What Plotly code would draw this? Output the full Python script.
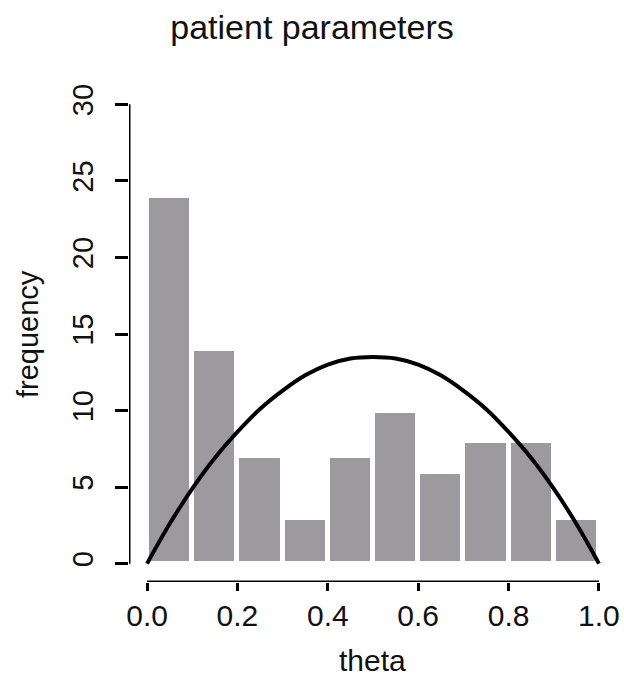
import plotly.graph_objects as go

# Histogram data (bins of width 0.1 on [0,1])
bin_centers = [0.05, 0.15, 0.25, 0.35, 0.45, 0.55, 0.65, 0.75, 0.85, 0.95]
frequencies = [24, 14, 7, 3, 7, 10, 6, 8, 8, 3]

# Overlaid curve
curve_x = [0.0, 0.05, 0.1, 0.15, 0.2, 0.25, 0.3, 0.35, 0.4, 0.45, 0.5,
           0.55, 0.6, 0.65, 0.7, 0.75, 0.8, 0.85, 0.9, 0.95, 1.0]
curve_y = [0.0, 2.6, 4.9, 6.9, 8.6, 10.1, 11.3, 12.3, 13.0, 13.4, 13.5,
           13.4, 13.0, 12.3, 11.3, 10.1, 8.6, 6.9, 4.9, 2.6, 0.0]

x_ticks = [0.0, 0.2, 0.4, 0.6, 0.8, 1.0]
x_tick_labels = ["0.0", "0.2", "0.4", "0.6", "0.8", "1.0"]
y_ticks = [0, 5, 10, 15, 20, 25, 30]
y_tick_labels = ["0", "5", "10", "15", "20", "25", "30"]

FONT = "Liberation Sans, Arial, sans-serif"

fig = go.Figure()
fig.add_trace(go.Bar(
    x=bin_centers, y=frequencies, width=0.1,
    marker=dict(color="#9c9a9e", line=dict(color="white", width=5)),
    showlegend=False,
))
fig.add_trace(go.Scatter(
    x=curve_x, y=curve_y, mode="lines",
    line=dict(color="black", width=4, shape="spline"),
    showlegend=False,
))

# R-style axis lines spanning first to last tick
fig.add_shape(type="line", xref="x", yref="y", x0=0, x1=1, y0=-1.2, y1=-1.2,
              line=dict(color="black", width=3))
fig.add_shape(type="line", xref="x", yref="y", x0=-0.04, x1=-0.04, y0=0, y1=30,
              line=dict(color="black", width=3))

# Axis titles placed as in the reference
fig.add_annotation(text="theta", xref="paper", yref="paper", x=0.498, y=-0.158,
                   xanchor="center", yanchor="middle", showarrow=False,
                   font=dict(size=30, color="#111"))
fig.add_annotation(text="frequency", xref="paper", yref="paper", x=-0.207, y=0.5,
                   xanchor="center", yanchor="middle", showarrow=False,
                   textangle=-90, font=dict(size=29, color="#111"))

fig.update_layout(
    width=624, height=676,
    margin=dict(l=129, r=7, t=86, b=94),
    plot_bgcolor="white", paper_bgcolor="white",
    font=dict(family=FONT, color="#111"),
    title=dict(text="patient parameters", x=0.5, xref="container", xanchor="center",
               y=1 - 27 / 676, yref="container", yanchor="middle",
               font=dict(size=34, color="#111"), automargin=False),
    xaxis=dict(range=[-0.04, 1.04], tickvals=x_ticks, ticktext=x_tick_labels,
               ticks="outside", ticklen=8, tickwidth=3, tickcolor="black",
               showgrid=False, zeroline=False, showline=False, automargin=False,
               tickfont=dict(size=30), ticklabelstandoff=-1),
    yaxis=dict(range=[-1.2, 31.2], tickvals=y_ticks, ticktext=y_tick_labels,
               ticks="outside", ticklen=13, tickwidth=3, tickcolor="black",
               tickangle=-90, showgrid=False, zeroline=False, showline=False,
               automargin=False, tickfont=dict(size=29), ticklabelstandoff=10),
    bargap=0,
)

fig.write_html("out.html", config={"displayModeBar": False})

# Remove the browser's default body margin so the figure sits at the page origin
with open("out.html", "r", encoding="utf-8") as f:
    html = f.read()
html = html.replace("<head>", "<head><style>html,body{margin:0;padding:0;overflow:hidden;}</style>", 1)
with open("out.html", "w", encoding="utf-8") as f:
    f.write(html)
